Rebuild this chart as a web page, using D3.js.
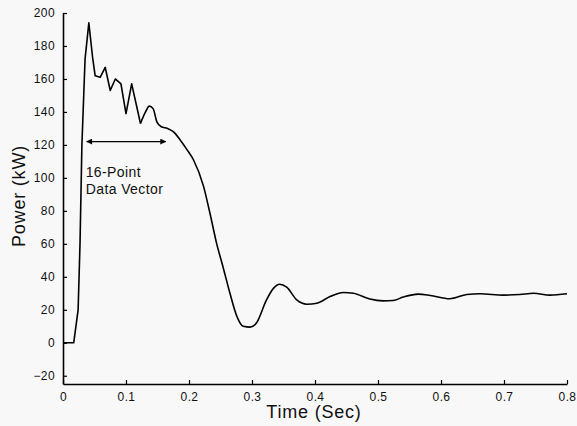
<!DOCTYPE html>
<html>
<head>
<meta charset="utf-8">
<script src="https://cdn.jsdelivr.net/npm/d3@7"></script>
<style>
  body { margin: 0; background: #f8f8f8; }
  svg { display: block; font-family: "Liberation Sans", Arial, sans-serif; }
</style>
</head>
<body>
<svg id="chart"></svg>
<script>
// power trace
const timeSec = [0, 0.017, 0.024, 0.027, 0.030, 0.035, 0.041, 0.047, 0.051, 0.059, 0.067, 0.075,
  0.083, 0.092, 0.100, 0.109, 0.123, 0.131, 0.137, 0.143, 0.149, 0.156, 0.166, 0.175, 0.186,
  0.197, 0.207, 0.223, 0.233, 0.244, 0.254, 0.265, 0.276, 0.286, 0.297, 0.307, 0.323, 0.334,
  0.344, 0.355, 0.371, 0.387, 0.403, 0.424, 0.445, 0.461, 0.487, 0.508, 0.524, 0.540, 0.564,
  0.583, 0.614, 0.641, 0.662, 0.699, 0.725, 0.747, 0.773, 0.800];
const powerKW = [0, 0, 20, 60, 120, 172, 194, 173, 162, 161, 167, 153,
  160, 157, 139, 157, 133, 140, 143.5, 142, 134, 131, 130, 128, 123,
  117, 111, 95, 79, 60, 46, 30, 16, 10, 9.5, 12, 26, 33,
  35.5, 33.7, 26, 23.4, 24, 28, 30.5, 30, 26.5, 25.4, 25.6, 27.7, 29.5,
  28.7, 26.7, 29.3, 29.7, 28.9, 29.3, 30, 28.9, 29.7];

const xTicks = [0, 0.1, 0.2, 0.3, 0.4, 0.5, 0.6, 0.7, 0.8];
const yTicks = [-20, 0, 20, 40, 60, 80, 100, 120, 140, 160, 180, 200];

// 16-point window marker
const windowStart = 0.0376;
const windowEnd = 0.163;
const windowLevel = 122;
const windowLabel = ["16-Point", "Data Vector"];

const width = 577, height = 426;
const margin = {left: 63, right: 10, top: 13, bottom: 42};

const svg = d3.select("#chart").attr("width", width).attr("height", height);

svg.append("rect").attr("width", width).attr("height", height).attr("fill", "#f8f8f8");

const x = d3.scaleLinear().domain([0, 0.8]).range([margin.left, 567]);
const y = d3.scaleLinear().domain([-25, 200]).range([384, margin.top]);

const data = timeSec.map((t, i) => ({t: t, p: powerKW[i]}));

// axes: only left and bottom, ticks pointing inward
const xAxis = svg.append("g")
    .attr("transform", `translate(0,${y(-25)})`)
    .call(d3.axisBottom(x).tickValues(xTicks).tickSizeInner(-4).tickSizeOuter(0)
      .tickPadding(8).tickFormat(d => d === 0 ? "0" : d3.format(".1f")(d)));

const yAxis = svg.append("g")
    .attr("transform", `translate(${x(0)},0)`)
    .call(d3.axisLeft(y).tickValues(yTicks).tickSizeInner(-4).tickSizeOuter(0)
      .tickPadding(8));

[xAxis, yAxis].forEach(g => {
  g.select(".domain").attr("stroke", "#000").attr("stroke-width", 1.6);
  g.selectAll(".tick line").attr("stroke", "#000").attr("stroke-width", 1.2);
  g.selectAll(".tick text").attr("fill", "#111").attr("font-size", 12)
    .attr("font-family", "Liberation Sans, Arial, sans-serif")
    .attr("letter-spacing", 0.4);
});

// jagged start drawn straight, the smooth part drawn with a curve
const splitAt = 16;
const lineSharp = d3.line().x(d => x(d.t)).y(d => y(d.p));
const lineSmooth = d3.line().x(d => x(d.t)).y(d => y(d.p)).curve(d3.curveMonotoneX);

svg.append("path")
    .datum(data.slice(0, splitAt + 1))
    .attr("fill", "none").attr("stroke", "#000").attr("stroke-width", 1.6)
    .attr("stroke-linejoin", "round")
    .attr("d", lineSharp);

svg.append("path")
    .datum(data.slice(splitAt))
    .attr("fill", "none").attr("stroke", "#000").attr("stroke-width", 1.6)
    .attr("d", lineSmooth);

// double arrow
const defs = svg.append("defs");
defs.append("marker")
    .attr("id", "arrow")
    .attr("viewBox", "0 0 10 10")
    .attr("refX", 9).attr("refY", 5)
    .attr("markerWidth", 9).attr("markerHeight", 6)
    .attr("markerUnits", "userSpaceOnUse")
    .attr("orient", "auto-start-reverse")
    .append("path").attr("d", "M0,0L10,5L0,10Z").attr("fill", "#000");

svg.append("line")
    .attr("x1", x(windowStart)).attr("x2", x(windowEnd))
    .attr("y1", y(windowLevel)).attr("y2", y(windowLevel))
    .attr("stroke", "#000").attr("stroke-width", 1.4)
    .attr("marker-start", "url(#arrow)").attr("marker-end", "url(#arrow)");

svg.append("text")
    .attr("x", x(windowStart) - 1)
    .attr("y", 177)
    .attr("font-size", 14).attr("letter-spacing", 0.4).attr("fill", "#111")
    .selectAll("tspan")
    .data(windowLabel)
    .enter().append("tspan")
    .attr("x", x(windowStart) - 1)
    .attr("dy", (d, i) => i === 0 ? 0 : 17)
    .text(d => d);

// axis titles
svg.append("text")
    .attr("x", 314).attr("y", 418)
    .attr("text-anchor", "middle")
    .attr("font-size", 18).attr("letter-spacing", 0.8).attr("fill", "#111")
    .text("Time (Sec)");

svg.append("text")
    .attr("transform", "translate(25,196) rotate(-90)")
    .attr("text-anchor", "middle")
    .attr("font-size", 18).attr("letter-spacing", 0.8).attr("fill", "#111")
    .text("Power (kW)");
</script>
</body>
</html>
